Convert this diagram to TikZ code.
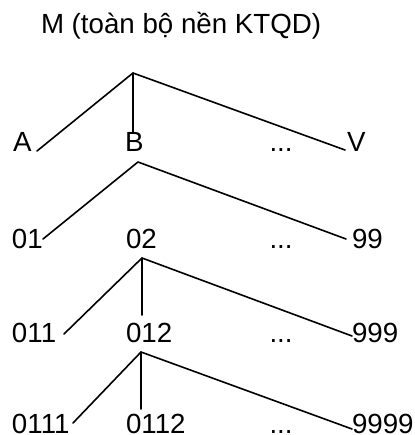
\documentclass[tikz,border=0pt]{standalone}
\usepackage{fontspec}
\setmainfont{Liberation Sans}
\begin{document}
\begin{tikzpicture}[x=1pt,y=-1pt,
  lbl/.style={anchor=base west,inner sep=0pt,outer sep=0pt,font=\fontsize{27.7}{32}\selectfont},
  branch/.style={line width=1.6pt,line cap=round,line join=round}]
\useasboundingbox (0,0) rectangle (414,435);

% title
\node[lbl] (title) at (41,34) {M (toàn bộ nền KTQD)};

% level 1
\node[lbl] (A)  at (13,152)    {A};
\node[lbl] (B)  at (125,152)   {B};
\node[lbl] (d1) at (269.5,152) {...};
\node[lbl] (V)  at (347,152)   {V};

% level 2
\node[lbl] (n01) at (12,248)    {01};
\node[lbl] (n02) at (126,248)   {02};
\node[lbl] (d2)  at (269.5,248) {...};
\node[lbl] (n99) at (352,248)   {99};

% level 3
\node[lbl] (n011) at (12,342)    {011};
\node[lbl] (n012) at (126,342)   {012};
\node[lbl] (d3)   at (269.5,342) {...};
\node[lbl] (n999) at (352,342)   {999};

% level 4
\node[lbl] (n0111) at (12,433)    {0111};
\node[lbl] (n0112) at (126,433)   {0112};
\node[lbl] (d4)    at (269.5,433) {...};
\node[lbl] (n9999) at (352,433)   {9999};

% branch points and branch ends
\coordinate (r1) at (133,73);
\coordinate (r1a) at (37,151);
\coordinate (r1b) at (133,132);
\coordinate (r1v) at (345,150);

\coordinate (r2) at (138,162);
\coordinate (r2a) at (43,239);
\coordinate (r2z) at (346,239);

\coordinate (r3) at (142,258);
\coordinate (r3a) at (64,334);
\coordinate (r3b) at (142,315);
\coordinate (r3z) at (352,336);

\coordinate (r4) at (141,352);
\coordinate (r4a) at (73,423);
\coordinate (r4b) at (141,409);
\coordinate (r4z) at (352,429);

\draw[branch] (r1a) -- (r1) -- (r1v);
\draw[branch] (r1) -- (r1b);

\draw[branch] (r2a) -- (r2) -- (r2z);

\draw[branch] (r3a) -- (r3) -- (r3z);
\draw[branch] (r3) -- (r3b);

\draw[branch] (r4a) -- (r4) -- (r4z);
\draw[branch] (r4) -- (r4b);
\end{tikzpicture}
\end{document}
